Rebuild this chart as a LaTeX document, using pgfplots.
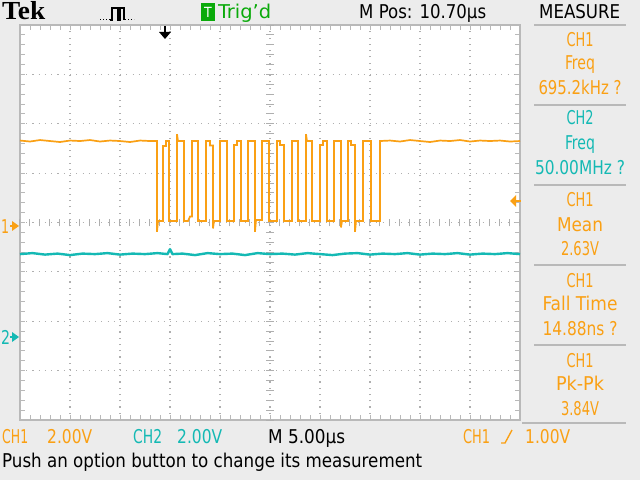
\documentclass[border=0pt]{standalone}
\usepackage{pgfplots}
\pgfplotsset{compat=1.18}
\usepackage{fontspec}
\setmainfont{DejaVu Sans Condensed}
\newfontfamily\tekfont{Liberation Serif}
\definecolor{bg}{RGB}{236,236,236}
\definecolor{frm}{RGB}{185,185,185}
\definecolor{grd}{RGB}{175,175,175}
\definecolor{chone}{RGB}{250,160,20}
\definecolor{chtwo}{RGB}{20,185,180}
\definecolor{trg}{RGB}{10,170,10}
\newcommand{\fw}[2]{\resizebox{#1pt}{\height}{#2}}
\begin{document}
\begin{tikzpicture}[x=1pt,y=1pt,font=\fontsize{19}{22}\selectfont]
\fill[bg] (0,0) rectangle (640,480);
\begin{axis}[at={(20pt,60pt)}, anchor=south west, scale only axis,
  width=500pt, height=395pt, xmin=0, xmax=10, ymin=-4, ymax=4,
  axis background/.style={fill=white},
  axis line style={draw=frm, line width=1.6pt},
  xtick={0,...,10}, ytick={-4,...,4}, minor x tick num=4, minor y tick num=4,
  xticklabels={}, yticklabels={},
  tick align=inside, major tick length=5pt, minor tick length=5pt,
  tick style={draw=frm, line width=0.9pt},
  xmajorgrids, ymajorgrids,
  major grid style={draw=grd, line width=1.1pt, dash pattern=on 1.1pt off 5.15pt},
  clip=false]
\foreach \xv in {0,0.2,...,10.01}{\edef\temp{\noexpand\draw[grd, line width=1pt] (axis cs:\xv,-0.08)--(axis cs:\xv,0.08);}\temp}
\foreach \yv in {-4,-3.8,...,4.01}{\edef\temp{\noexpand\draw[grd, line width=1pt] (axis cs:4.92,\yv)--(axis cs:5.08,\yv);}\temp}
\addplot[chtwo, line width=2.4pt, line join=round] coordinates {
(0,-0.64)(0.25,-0.62)(0.5,-0.65)(0.75,-0.63)(1.0,-0.66)(1.25,-0.63)(1.5,-0.64)(1.75,-0.62)(2.0,-0.65)(2.25,-0.63)(2.5,-0.64)(2.75,-0.62)(2.95,-0.64)(3.0,-0.54)(3.05,-0.64)(3.25,-0.63)(3.5,-0.66)(3.75,-0.62)(4.0,-0.64)(4.25,-0.63)(4.5,-0.66)(4.75,-0.62)(5.0,-0.64)(5.25,-0.63)(5.5,-0.65)(5.75,-0.62)(6.0,-0.64)(6.25,-0.66)(6.5,-0.63)(6.75,-0.62)(7.0,-0.65)(7.25,-0.63)(7.5,-0.64)(7.75,-0.62)(8.0,-0.65)(8.25,-0.63)(8.5,-0.64)(8.75,-0.62)(9.0,-0.65)(9.25,-0.63)(9.5,-0.64)(9.75,-0.62)(10,-0.64)};
\addplot[chone, line width=1.7pt] coordinates {
(0,1.66)(0.2,1.64)(0.4,1.67)(0.6,1.65)(0.8,1.63)(1.0,1.66)(1.2,1.65)(1.4,1.67)(1.6,1.64)(1.8,1.66)(2.0,1.65)(2.2,1.63)(2.4,1.66)(2.6,1.65)(2.74,1.65)
(2.74,-0.19)(2.76,0.03)(2.86,0.03)
(2.86,1.55)(2.92,1.55)(2.92,1.65)(2.98,1.65)
(2.98,0.03)(3.14,0.03)
(3.14,1.79)(3.16,1.65)(3.28,1.65)
(3.28,0.03)(3.36,0.03)(3.40,0.12)(3.44,0.12)
(3.44,1.65)(3.56,1.65)
(3.56,0.03)(3.72,0.03)
(3.72,1.65)(3.80,1.65)(3.80,1.56)(3.86,1.56)
(3.86,-0.12)(3.88,0.03)(4.00,0.03)
(4.00,1.65)(4.14,1.65)
(4.14,0.03)(4.28,0.03)
(4.28,1.57)(4.34,1.57)(4.34,1.65)(4.42,1.65)
(4.42,0.03)(4.56,0.03)
(4.56,1.65)(4.70,1.65)
(4.70,-0.19)(4.72,0.05)(4.84,0.05)
(4.84,1.65)(4.98,1.65)
(4.98,0.03)(5.14,0.03)
(5.14,1.65)(5.20,1.65)(5.20,1.57)(5.28,1.57)
(5.28,0.03)(5.44,0.03)
(5.44,1.65)(5.56,1.65)
(5.56,0.03)(5.72,0.03)
(5.72,1.79)(5.74,1.65)(5.84,1.65)
(5.84,0.03)(6.00,0.03)
(6.00,1.57)(6.06,1.57)(6.06,1.65)(6.14,1.65)
(6.14,0.03)(6.28,0.03)
(6.28,1.65)(6.42,1.65)
(6.42,-0.10)(6.44,0.03)(6.56,0.03)
(6.56,1.65)(6.62,1.65)(6.62,1.57)(6.70,1.57)
(6.70,-0.19)(6.72,0.03)(6.86,0.03)
(6.86,1.65)(7.02,1.65)
(7.02,0.03)(7.20,0.03)
(7.20,1.65)(7.4,1.66)(7.6,1.64)(7.8,1.67)(8.0,1.65)(8.2,1.63)(8.4,1.66)(8.6,1.65)(8.8,1.67)(9.0,1.64)(9.2,1.66)(9.4,1.65)(9.6,1.66)(9.8,1.64)(10,1.65)};
\end{axis}
\begin{scope}[yshift=480pt, y=-1pt]
% top bar
\node[anchor=base west, inner sep=0, font=\tekfont\bfseries\fontsize{26}{26}\selectfont] at (2,20) {\fw{43}{Tek}};
\draw[black, line width=1pt, dotted] (100,20)--(110,20);
\draw[black, line width=1.2pt] (110,20)--(112,20)--(112,8)--(118,8)--(118,20)--(120,20)--(120,8)--(124,8)--(124,20);
\draw[black, line width=1pt, dotted] (125,20)--(134,20);
\fill[trg] (201,3) rectangle (215,21);
\node[white, inner sep=0, font=\fontsize{14}{14}\selectfont] at (208,12) {T};
\begin{scope}[every node/.style={inner sep=0, anchor=base west}]
\node[text=trg] at (218,19) {\fw{53}{Trig'd}};
\node at (359,19) {\fw{127}{M Pos: 10.70µs}};
\node at (539,19) {\fw{81}{MEASURE}};
\end{scope}
% trigger position arrow
\draw[black, line width=1.5pt] (165,26)--(165,34);
\fill[black] (159,32)--(171,32)--(165,39)--cycle;
% right panel
\draw[frm, line width=1.6pt] (534,25)--(626,25);
\foreach \yy in {105,185,265,345}{\draw[frm, line width=1.6pt] (534,\yy)--(626,\yy);}
\draw[frm, line width=1.6pt] (522,423)--(626,423);
\begin{scope}[every node/.style={inner sep=0, anchor=base}]
\node[text=chone] at (580,47) {\fw{27}{CH1}};
\node[text=chone] at (580,70) {\fw{30}{Freq}};
\node[text=chone] at (580,95) {\fw{83}{695.2kHz ?}};
\node[text=chtwo] at (580,125) {\fw{27}{CH2}};
\node[text=chtwo] at (580,150) {\fw{30}{Freq}};
\node[text=chtwo] at (580,175) {\fw{90}{50.00MHz ?}};
\node[text=chone] at (580,207) {\fw{27}{CH1}};
\node[text=chone] at (580,232) {\fw{46}{Mean}};
\node[text=chone] at (580,255) {\fw{38}{2.63V}};
\node[text=chone] at (580,287) {\fw{27}{CH1}};
\node[text=chone] at (580,310) {\fw{75}{Fall Time}};
\node[text=chone] at (580,335) {\fw{75}{14.88ns ?}};
\node[text=chone] at (580,367) {\fw{27}{CH1}};
\node[text=chone] at (580,390) {\fw{48}{Pk-Pk}};
\node[text=chone] at (580,415) {\fw{38}{3.84V}};
\end{scope}
% bottom lines
\begin{scope}[every node/.style={inner sep=0, anchor=base west}]
\node[text=chone] at (2,443) {\fw{26}{CH1}};
\node[text=chone] at (47,443) {\fw{45}{2.00V}};
\node[text=chtwo] at (133,443) {\fw{29}{CH2}};
\node[text=chtwo] at (177,443) {\fw{45}{2.00V}};
\node at (268,443) {\fw{77}{M 5.00µs}};
\node[text=chone] at (463,443) {\fw{27}{CH1}};
\node[text=chone] at (525,443) {\fw{45}{1.00V}};
\node at (2,467) {\fw{420}{Push an option button to change its measurement}};
% channel markers
\node[text=chone] at (1,233) {\fw{8}{1}};
\node[text=chtwo] at (1,344) {\fw{9}{2}};
\end{scope}
\draw[chone, line width=1.4pt] (501,443)--(505,443)--(512,430);
\fill[chone] (19,226)--(12,221)--(12,231)--cycle;
\draw[chone, line width=1.2pt] (10,226)--(18,226);
\fill[chtwo] (19,337)--(12,332)--(12,342)--cycle;
\draw[chtwo, line width=1.2pt] (10,337)--(18,337);
\fill[chone] (510,201)--(516,195)--(516,207)--cycle;
\draw[chone, line width=1.4pt] (512,201)--(521,201);
\end{scope}
\end{tikzpicture}
\end{document}
